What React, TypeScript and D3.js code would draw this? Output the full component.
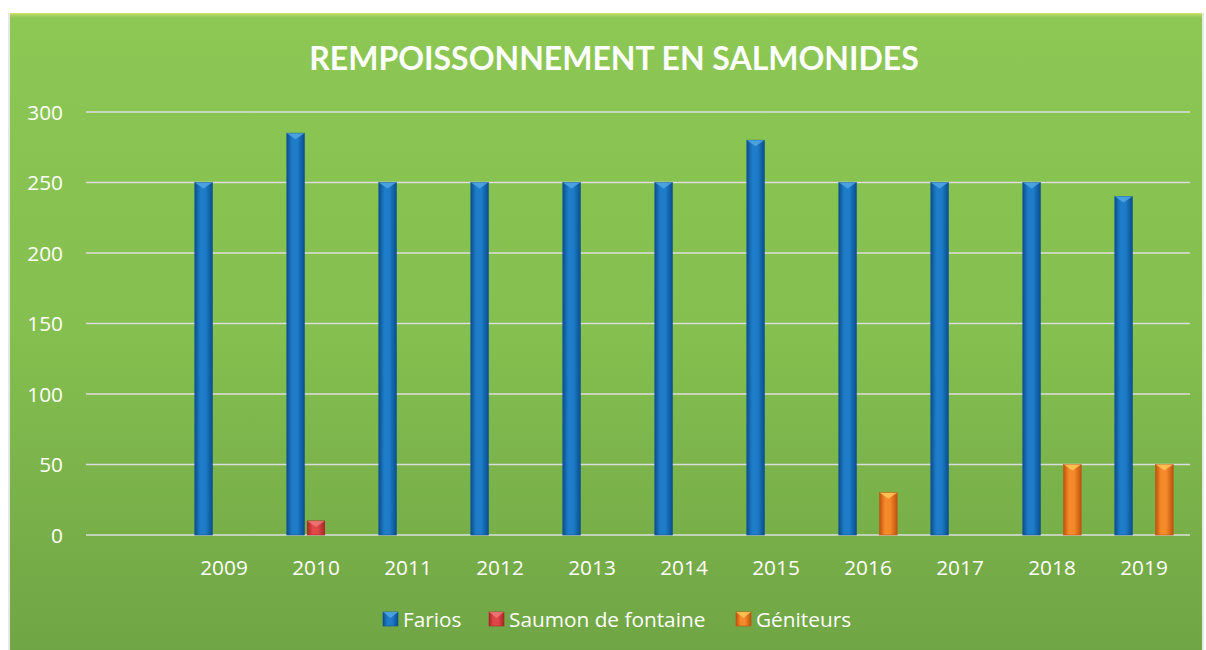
import React from "react";
import * as d3 from "d3";

const categories = ["", "2009", "2010", "2011", "2012", "2013", "2014", "2015", "2016", "2017", "2018", "2019"];
const seriesNames = ["Farios", "Saumon de fontaine", "Géniteurs"];
const farios = [null, 250, 285, 250, 250, 250, 250, 280, 250, 250, 250, 240];
const saumon = [null, null, 10, null, null, null, null, null, null, null, null, null];
const geniteurs = [null, null, null, null, null, null, null, null, 30, null, 50, 50];
const yTicks = [0, 50, 100, 150, 200, 250, 300];
const title = "REMPOISSONNEMENT EN SALMONIDES";

const seriesValues = [farios, saumon, geniteurs];
const seriesColors = [
  { id: "gBlue", edge: "#0a4f8f", mid: "#1f7cc8", cap: "#5aaee8" },
  { id: "gRed", edge: "#a82626", mid: "#e04848", cap: "#f08080" },
  { id: "gOrange", edge: "#c0520e", mid: "#f48a2a", cap: "#ffd060" },
];

const W = 1206;
const H = 650;
const plotLeft = 86;
const plotRight = 1190;
const plotTop = 112;
const plotBottom = 535;
const fs = 20.8;

export default function App() {
  const x0 = d3.scaleBand<string>().domain(categories.map((c, i) => String(i))).range([plotLeft, plotRight]).paddingInner(0).paddingOuter(0);
  const bw = x0.bandwidth();
  const groupW = 61.2;
  const x1 = d3.scaleBand<string>().domain(seriesNames).range([(bw - groupW) / 2, (bw + groupW) / 2]).paddingInner(0.14).paddingOuter(0.07);
  const y = d3.scaleLinear().domain([0, 300]).range([plotBottom, plotTop]);
  const barW = x1.bandwidth();

  const legendItems = [
    { name: seriesNames[0], mx: 383, tx: 403 },
    { name: seriesNames[1], mx: 489, tx: 509 },
    { name: seriesNames[2], mx: 736, tx: 756 },
  ];

  return (
    <svg width={W} height={H} style={{ position: "absolute", left: 0, top: 0, display: "block" }}
      fontFamily="'Open Sans', sans-serif">
      <defs>
        <linearGradient id="bg" x1="0" y1="0" x2="0" y2="1">
          <stop offset="0" stopColor="#8dc855" />
          <stop offset="0.5" stopColor="#84bf4f" />
          <stop offset="1" stopColor="#70a545" />
        </linearGradient>
        <linearGradient id="topEdge" x1="0" y1="0" x2="0" y2="1">
          <stop offset="0" stopColor="#d6e36a" />
          <stop offset="1" stopColor="#8dc855" stopOpacity="0" />
        </linearGradient>
        {seriesColors.map((c) => (
          <linearGradient key={c.id} id={c.id} x1="0" y1="0" x2="1" y2="0">
            <stop offset="0" stopColor={c.edge} />
            <stop offset="0.3" stopColor={c.mid} />
            <stop offset="0.6" stopColor={c.mid} />
            <stop offset="1" stopColor={c.edge} />
          </linearGradient>
        ))}
      </defs>
      <rect x={0} y={0} width={W} height={H} fill="#ffffff" />
      <rect x={8} y={13} width={1196} height={640} fill="#d0d0d0" opacity={0.5} />
      <rect x={10} y={13} width={1192} height={640} fill="url(#bg)" />
      <rect x={10} y={13} width={1192} height={6} fill="url(#topEdge)" />

      <text x={614} y={70} textAnchor="middle" fill="#ffffff" fontWeight="bold" fontSize={32}
        fontFamily="Lato, 'Open Sans', sans-serif">{title}</text>

      {yTicks.map((t) => (
        <g key={t}>
          <line x1={plotLeft} x2={plotRight} y1={y(t)} y2={y(t)} stroke="#dcdcdc" strokeWidth={1.6} />
          <text x={63} y={y(t) + 7.5} textAnchor="end" fill="#ffffff" fontSize={fs}>{t}</text>
        </g>
      ))}

      {seriesValues.map((vals, si) =>
        vals.map((v, ci) => {
          if (v == null) return null;
          const bx = (x0(String(ci)) as number) + (x1(seriesNames[si]) as number);
          const by = y(v);
          const bh = plotBottom - by;
          const c = seriesColors[si];
          const capH = Math.min(6, bh / 2);
          return (
            <g key={`${si}-${ci}`}>
              <rect x={bx} y={by} width={barW} height={bh} fill={`url(#${c.id})`} stroke={c.edge} strokeWidth={0.6} />
              <path d={`M${bx},${by} L${bx + barW},${by} L${bx + barW / 2},${by + capH} Z`} fill={c.cap} opacity={0.75} />
            </g>
          );
        })
      )}

      {categories.map((c, i) => (
        <text key={i} x={(x0(String(i)) as number) + bw / 2} y={575} textAnchor="middle" fill="#ffffff" fontSize={fs}>{c}</text>
      ))}

      {legendItems.map((it, i) => {
        const c = seriesColors[i];
        return (
          <g key={it.name}>
            <rect x={it.mx} y={612} width={15} height={14} fill={`url(#${c.id})`} stroke={c.edge} strokeWidth={0.6} />
            <path d={`M${it.mx},612 L${it.mx + 15},612 L${it.mx + 7.5},618 Z`} fill={c.cap} opacity={0.75} />
            <text x={it.tx} y={627} fill="#ffffff" fontSize={fs}>{it.name}</text>
          </g>
        );
      })}
    </svg>
  );
}
